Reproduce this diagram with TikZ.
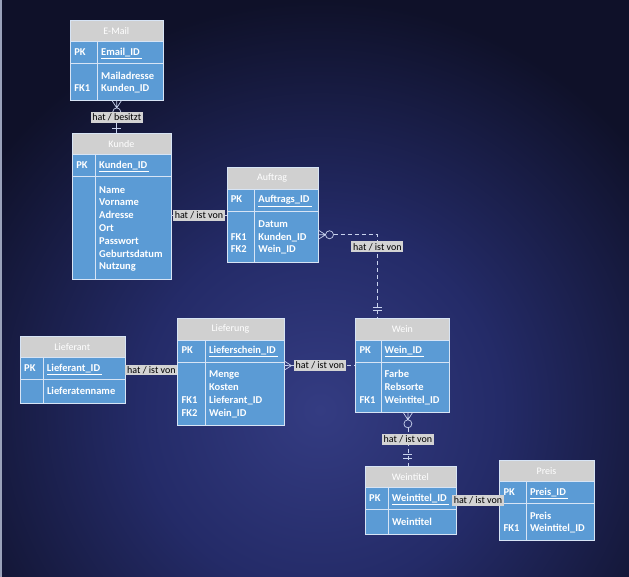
\documentclass[tikz,border=0pt]{standalone}
\usepackage{fontspec}
\setmainfont{Carlito}
\usetikzlibrary{calc}
\definecolor{rowblue}{HTML}{5B9BD5}
\definecolor{hdrgrey}{HTML}{D0D0D0}
\definecolor{gridblue}{HTML}{D7E4F5}
\definecolor{connblue}{HTML}{C9D3EE}
\definecolor{lblgrey}{HTML}{D3D3D3}
\definecolor{glowblue}{HTML}{343C82}
\definecolor{midblue}{HTML}{242B68}
\definecolor{edgeblue}{HTML}{0F1129}
\definecolor{stripgrey}{HTML}{9AA2BA}
\pgfdeclareradialshading{bgglow}{\pgfpoint{0bp}{0bp}}{color(0bp)=(glowblue); color(11bp)=(midblue); color(25bp)=(edgeblue); color(50bp)=(edgeblue)}

\tikzset{
  tblbox/.style={draw=gridblue, line width=0.8pt, inner sep=0pt},
  gridline/.style={draw=gridblue, line width=0.8pt},
  titletext/.style={text=white, font=\fontsize{10}{11}\selectfont, inner sep=0pt},
  rowtext/.style={text=white, font=\fontsize{10.5}{12.8}\selectfont\bfseries, anchor=west, inner sep=0pt},
  conn/.style={draw=connblue, line width=0.7pt},
  dashconn/.style={conn, dash pattern=on 4pt off 3pt},
  lbl/.style={fill=lblgrey, text=black, font=\fontsize{10}{11}\selectfont, inner sep=1.8pt},
  many/.pic={\draw[conn] (0,-4.5) -- (7,0) (0,0) -- (7,0) (0,4.5) -- (7,0);},
  zeromany/.pic={\draw[conn] (0,-4.5) -- (7,0) (0,0) -- (7,0) (0,4.5) -- (7,0) (11,0) circle (4);},
  one/.pic={\draw[conn] (5,-4.5) -- (5,4.5);},
  onlyone/.pic={\draw[conn] (8,-4.5) -- (8,4.5) (11.5,-4.5) -- (11.5,4.5);}
}

% table: [name](top left)(width:key column:body height){title}{primary key}{rows}
\def\entity[#1](#2)(#3:#4:#5)#6#7#8{%
  \begin{scope}[shift={(#2)}]
    \fill[hdrgrey] (0,0) rectangle (#3,21.5);
    \fill[rowblue] (0,21.5) rectangle ({#3},{43.5+#5});
    \draw[gridline] (0,21.5) -- (#3,21.5) (0,43.5) -- (#3,43.5) (#4,21.5) -- (#4,{43.5+#5});
    \node[tblbox, anchor=north west, minimum width=#3, minimum height={43.5+#5}] (#1) at (0,0) {};
    \node[titletext] (#1-title) at ({#3/2},10.75) {#6};
    \node[rowtext] (#1-pk) at (4,32.75) {\begin{tabular}{@{}p{\dimexpr#4pt-8pt\relax}@{\hspace{7.5pt}}l@{}}PK & \underline{#7\kern2pt}\end{tabular}};
    \node[rowtext] (#1-rows) at (4,{44.5+#5/2}) {\begin{tabular}{@{}p{\dimexpr#4pt-8pt\relax}@{\hspace{7.5pt}}l@{}}#8\end{tabular}};
  \end{scope}}

\begin{document}
\begin{tikzpicture}[x=1pt, y=-1pt]
  %%%%% START %%%%%
  \useasboundingbox (0,0) rectangle (629,577);
  \begin{scope}
    \clip (0,0) rectangle (629,577);
    \shade[shading=bgglow] (-90,0) rectangle (730,820);
  \end{scope}
  \fill[stripgrey] (0,0) rectangle (1.5,577);

  \entity[email](70.2,20.2)(92.3:27.3:36.4){E-Mail}{Email\_ID}{& Mailadresse\\FK1 & Kunden\_ID}
  \entity[kunde](72.2,133.2)(98.3:23.3:102.3){Kunde}{Kunden\_ID}{& Name\\ & Vorname\\ & Adresse\\ & Ort\\ & Passwort\\ & Geburtsdatum\\ & Nutzung}
  \entity[auftrag](226.6,167.5)(91.1:28.1:51.2){Auftrag}{Auftrags\_ID}{& Datum\\FK1 & Kunden\_ID\\FK2 & Wein\_ID}
  \entity[lieferant](20,336)(104.7:23.3:23.7){Lieferant}{Lieferant\_ID}{& Lieferatenname}
  \entity[lieferung](177.3,318.4)(106.3:28.1:63){Lieferung}{Lieferschein\_ID}{& Menge\\ & Kosten\\FK1 & Lieferant\_ID\\FK2 & Wein\_ID}
  \entity[wein](355.4,318.4)(93.8:25.6:50.1){Wein}{Wein\_ID}{& Farbe\\ & Rebsorte\\FK1 & Weintitel\_ID}
  \entity[weintitel](365,466.3)(90.7:23.3:23.9){Weintitel}{Weintitel\_ID}{& Weintitel}
  \entity[preis](499.4,460)(94.2:26.9:36.8){Preis}{Preis\_ID}{& Preis\\FK1 & Weintitel\_ID}

  % E-Mail -- Kunde
  \draw[conn, shorten <=15pt] (email.south) -- (email.south |- kunde.north);
  \pic[rotate=-90] at (email.south) {zeromany};
  \pic[rotate=90] at (email.south |- kunde.north) {one};
  \node[lbl] (lbl-email) at ($(email.south)!0.5!(email.south |- kunde.north)$) {hat / besitzt};

  % Kunde -- Auftrag
  \draw[conn] (kunde.east |- auftrag.west) -- node[lbl] (lbl-auftrag) {hat / ist von} (auftrag.west);

  % Auftrag -- Wein
  \coordinate (auftrag-fk) at ([yshift=-19.5pt]auftrag.east);
  \coordinate (wein-in) at ([xshift=-25.3pt]wein.north);
  \draw[dashconn, shorten <=15pt] (auftrag-fk) -| (wein-in);
  \pic at (auftrag-fk) {zeromany};
  \pic[rotate=90] at (wein-in) {onlyone};
  \node[lbl, yshift=-12pt] (lbl-wein) at (auftrag-fk -| wein-in) {hat / ist von};

  % Lieferung -- Wein
  \draw[dashconn] (lieferung.east |- wein.west) -- node[lbl] (lbl-lieferung) {hat / ist von} (wein.west);
  \pic at (lieferung.east |- wein.west) {many};

  % Lieferant -- Lieferung
  \draw[conn] (lieferant.east) -- node[lbl] (lbl-lieferant) {hat / ist von} (lieferant.east -| lieferung.west);

  % Wein -- Weintitel
  \coordinate (wein-out) at ([xshift=5.2pt]wein.south);
  \draw[dashconn, shorten <=15pt] (wein-out) -- node[lbl] (lbl-weintitel) {hat / ist von} (wein-out |- weintitel.north);
  \pic[rotate=-90] at (wein-out) {zeromany};
  \pic[rotate=90] at (wein-out |- weintitel.north) {onlyone};

  % Weintitel -- Preis
  \draw[conn] (weintitel.east) -- node[lbl] (lbl-preis) {hat / ist von} (weintitel.east -| preis.west);
  %%%%% END %%%%%
\end{tikzpicture}
\end{document}
